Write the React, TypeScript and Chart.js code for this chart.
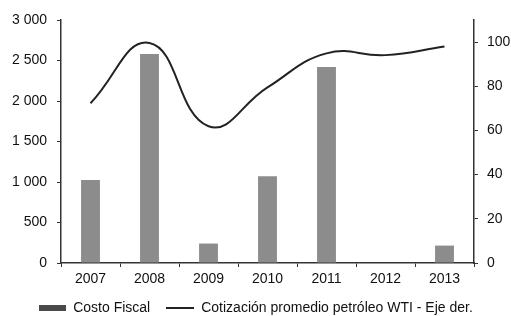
import React, { useEffect, useRef } from "react";
import { Chart, registerables } from "chart.js";

Chart.register(...registerables);

const years = ["2007", "2008", "2009", "2010", "2011", "2012", "2013"];
const costoFiscal = [1025, 2580, 240, 1070, 2420, 0, 215];
const wtiPrice = [72.3, 99.6, 61.9, 79.5, 94.9, 94.1, 98.0];
const leftTicks = [0, 500, 1000, 1500, 2000, 2500, 3000];
const rightTicks = [0, 20, 40, 60, 80, 100];

const FONT = { family: "'Liberation Sans', Arial, sans-serif", size: 14 };
const TEXT = "#111111";

function makeSwatch(w: number, h: number, color: string) {
  const c = document.createElement("canvas");
  c.width = w;
  c.height = h;
  const ctx = c.getContext("2d")!;
  ctx.fillStyle = color;
  ctx.fillRect(0, 0, w, h);
  return c;
}

function fmt(v: number) {
  return String(v).replace(/\B(?=(\d{3})+(?!\d))/g, " ");
}

export default function App() {
  const ref = useRef<HTMLCanvasElement | null>(null);

  useEffect(() => {
    document.body.style.margin = "0";
    const barSwatch = makeSwatch(27, 6, "#4a4a4a");
    const lineSwatch = makeSwatch(28, 2, "#222222");
    const chart = new Chart(ref.current!, {
      type: "bar",
      data: {
        labels: years,
        datasets: [
          {
            type: "bar",
            label: "Costo Fiscal",
            data: costoFiscal,
            backgroundColor: "#8c8c8c",
            yAxisID: "y",
            categoryPercentage: 1,
            barPercentage: 0.32,
            pointStyle: barSwatch as any,
            order: 2,
          },
          {
            type: "line",
            label: "Cotización promedio petróleo WTI - Eje der.",
            data: wtiPrice,
            borderColor: "#222222",
            backgroundColor: "#222222",
            borderWidth: 2,
            pointRadius: 0,
            tension: 0.45,
            yAxisID: "y1",
            pointStyle: lineSwatch as any,
            order: 1,
          },
        ],
      },
      options: {
        responsive: false,
        animation: false,
        layout: { padding: { top: 20, bottom: -9, left: 0, right: 0 } },
        plugins: {
          tooltip: { enabled: false },
          legend: {
            position: "bottom",
            labels: {
              usePointStyle: true,
              pointStyleWidth: 28,
              padding: 16,
              color: TEXT,
              font: FONT,
              sort: (a: any, b: any) => a.datasetIndex - b.datasetIndex,
            },
          },
        },
        scales: {
          x: {
            grid: {
              display: true,
              drawOnChartArea: false,
              tickLength: 4,
              color: "#333",
              offset: true,
            },
            border: { display: true, color: "#333", width: 1.5 },
            ticks: { color: TEXT, font: FONT, padding: 4 },
            afterFit: (s: any) => {
              s.height = 22;
            },
          },
          y: {
            position: "left",
            min: 0,
            max: 3000,
            afterBuildTicks: (s: any) => {
              s.ticks = leftTicks.map((v) => ({ value: v }));
            },
            grid: { display: true, drawOnChartArea: false, tickLength: 4, color: "#333" },
            border: { display: true, color: "#333", width: 1.5 },
            ticks: {
              color: TEXT,
              font: FONT,
              padding: 10,
              callback: (v: any) => fmt(Number(v)),
            },
            afterFit: (s: any) => {
              s.width = 61;
            },
          },
          y1: {
            position: "right",
            min: 0,
            max: 110,
            afterBuildTicks: (s: any) => {
              s.ticks = rightTicks.map((v) => ({ value: v }));
            },
            grid: { display: true, drawOnChartArea: false, tickLength: 4, color: "#333" },
            border: { display: true, color: "#333", width: 1.5 },
            ticks: { color: TEXT, font: FONT, padding: 9 },
            afterFit: (s: any) => {
              s.width = 37;
            },
          },
        },
      },
    });
    return () => chart.destroy();
  }, []);

  return (
    <div style={{ width: 511, height: 316, background: "#fff" }}>
      <canvas ref={ref} width={511} height={316} />
    </div>
  );
}
